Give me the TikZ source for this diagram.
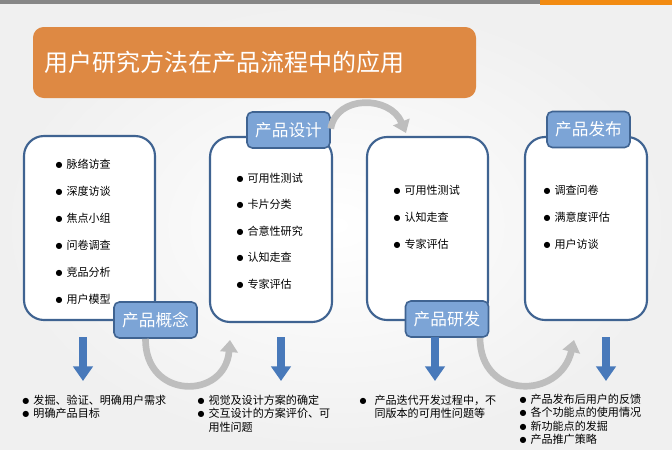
\documentclass[tikz,border=0pt]{standalone}
\usepackage{fontspec}
\newfontfamily\cjk{Noto Sans CJK SC}
\newfontfamily\bulfont{DejaVu Sans}
\usetikzlibrary{arrows.meta,fit}

\definecolor{titleorange}{RGB}{222,137,67}
\definecolor{barorange}{RGB}{242,139,18}
\definecolor{bargray}{RGB}{135,135,135}
\definecolor{cardblue}{RGB}{63,99,145}
\definecolor{tagblue}{RGB}{124,164,214}
\definecolor{arrowblue}{RGB}{72,121,186}
\definecolor{loopgray}{RGB}{190,190,190}
\definecolor{bggray}{RGB}{240,240,240}

\newcommand\itembul{\makebox[8.25pt][l]{\raisebox{0.6pt}{\bulfont\fontsize{6}{6}\selectfont ●}}}

\tikzset{every picture/.style={line width=0.75pt}}

\begin{document}
\begin{tikzpicture}[x=0.75pt,y=0.75pt,yscale=-1,xscale=1,
  card/.style={draw=cardblue, line width=1.6pt, rounded corners=15pt, fill=white, inner sep=0pt},
  tag/.style={draw=cardblue, line width=1.2pt, rounded corners=4pt, fill=tagblue, text=white,
    minimum width=62.25pt, minimum height=27pt, inner sep=0pt, font=\cjk\fontsize{12.5}{14}\selectfont},
  item/.style={anchor=west, inner sep=0pt, font=\cjk\fontsize{8.3}{10}\selectfont},
  downarrow/.style={draw=arrowblue, line width=6pt, -{Triangle[width=14.5pt,length=11pt]}},
  looparrow/.style={draw=loopgray, line width=5pt, -{Triangle[width=13pt,length=9pt]}}]
\useasboundingbox (0,0) rectangle (672,450);

%Background
\shade[inner color=white, outer color=bggray] (0,0) rectangle (672,450);
%Top bar
\fill[bargray] (0,0) rectangle (540,4);
\fill[barorange] (540,0) rectangle (672,5);

%Title
\node[fill=titleorange, rounded corners=8pt, minimum width=332.25pt, minimum height=53.25pt,
  text width=314.25pt, align=left, inner xsep=9pt, text=white,
  font=\cjk\fontsize{18}{20}\selectfont] (title) at (254.5,62.5) {用户研究方法在产品流程中的应用};

%Shape: Cards
\node[card, fit={(24,136) (155,320)}] (concept) {};
\node[card, fit={(210,137) (332,322)}] (design) {};
\node[card, fit={(367,137) (488,320)}] (develop) {};
\node[card, fit={(525,137) (647,320)}] (release) {};

%Tags
\node[tag] (conceptTag) at (155.5,320) {产品概念};
\node[tag] (designTag) at (288.5,130) {产品设计};
\node[tag] (developTag) at (447,319) {产品研发};
\node[tag] (releaseTag) at (588.5,129.5) {产品发布};

%Curve Lines
\coordinate (cv1e) at (230,340);
\coordinate (cv2e) at (406,133);
\coordinate (cv3e) at (574,340);
\draw[looparrow] ([xshift=-7.5pt]conceptTag.south) .. controls (145,400) and (225,400) .. (cv1e);
\draw[looparrow] ([yshift=-1pt]designTag.east) .. controls (336,95) and (390,95) .. (cv2e);
\draw[looparrow] ([xshift=24.75pt]developTag.south) .. controls (480,400) and (560,400) .. (cv3e);

%Straight Lines
\coordinate (a1s) at (83,337);   \coordinate (a1e) at (83,381);
\coordinate (a2s) at (281,337);  \coordinate (a2e) at (281,381);
\coordinate (a3s) at (435,337);  \coordinate (a3e) at (435,381);
\coordinate (a4s) at (606,337);  \coordinate (a4e) at (606,381);
\draw[downarrow] (a1s) -- (a1e);
\draw[downarrow] (a2s) -- (a2e);
\draw[downarrow] (a3s) -- (a3e);
\draw[downarrow] (a4s) -- (a4e);

% Text Node
\node[item] (c1) at (55,164) {\itembul 脉络访查};
\node[item] (c2) at (55,191) {\itembul 深度访谈};
\node[item] (c3) at (55,218) {\itembul 焦点小组};
\node[item] (c4) at (55,245) {\itembul 问卷调查};
\node[item] (c5) at (55,272) {\itembul 竞品分析};
\node[item] (c6) at (55,299) {\itembul 用户模型};
% Text Node
\node[item] (d1) at (236,178) {\itembul 可用性测试};
\node[item] (d2) at (236,204) {\itembul 卡片分类};
\node[item] (d3) at (236,231) {\itembul 合意性研究};
\node[item] (d4) at (236,257) {\itembul 认知走查};
\node[item] (d5) at (236,284) {\itembul 专家评估};
% Text Node
\node[item] (v1) at (393,190) {\itembul 可用性测试};
\node[item] (v2) at (393,217) {\itembul 认知走查};
\node[item] (v3) at (393,244) {\itembul 专家评估};
% Text Node
\node[item] (r1) at (543,190) {\itembul 调查问卷};
\node[item] (r2) at (543,217) {\itembul 满意度评估};
\node[item] (r3) at (543,244) {\itembul 用户访谈};

% Text Node
\node[item] (co1) at (22,400) {\itembul 发掘、验证、明确用户需求};
\node[item] (co2) at (22,413) {\itembul 明确产品目标};
% Text Node
\node[item] (de1) at (197,400) {\itembul 视觉及设计方案的确定};
\node[item] (de2) at (197,413.5) {\itembul 交互设计的方案评价、可};
\node[item] (de3) at (197,427) {\phantom{\itembul}用性问题};
% Text Node
\node[item] (dv1) at (359,400) {\itembul\hspace{3pt}产品迭代开发过程中，不};
\node[item] (dv2) at (359,413) {\phantom{\itembul}\hspace{3pt}同版本的可用性问题等};
% Text Node
\node[item] (re1) at (519,399) {\itembul 产品发布后用户的反馈};
\node[item] (re2) at (519,412.5) {\itembul 各个功能点的使用情况};
\node[item] (re3) at (519,426) {\itembul 新功能点的发掘};
\node[item] (re4) at (519,439.5) {\itembul 产品推广策略};

\end{tikzpicture}
\end{document}
